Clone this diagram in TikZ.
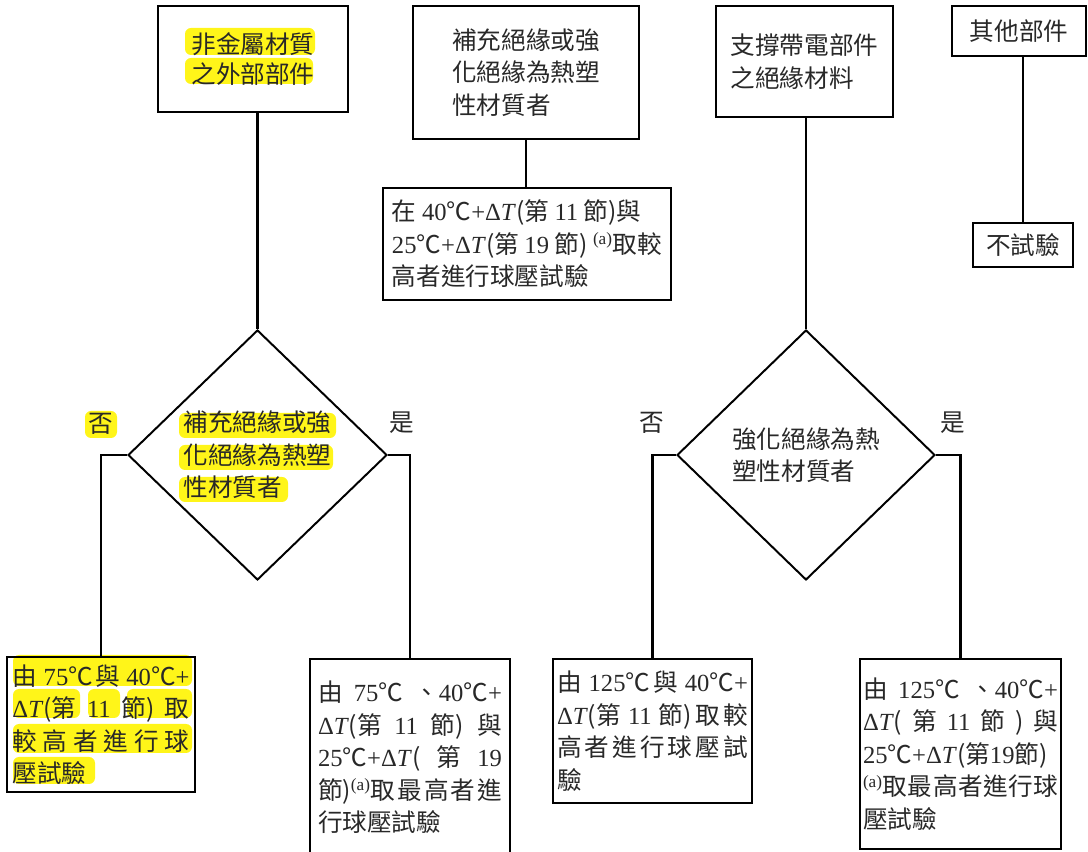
\documentclass[tikz,border=0pt]{standalone}
\usepackage{fontspec}
\usetikzlibrary{shapes.geometric}
\setmainfont{Noto Sans CJK TC}
\newfontfamily\lat{Liberation Serif}
\newlength\px
\setlength\px{0.025cm}
\definecolor{hlyellow}{RGB}{255,245,25}
\definecolor{ink}{RGB}{40,40,40}
\newcommand\nm[1]{{\lat #1}}
\newcommand\dT{{\lat Δ\textit{T}}}
\newcommand\sa{\textsuperscript{\lat (a)}}
\newcommand\jcjk{\XeTeXlinebreaklocale "zh"\XeTeXlinebreakskip=0pt plus 4pt\tolerance=10000\relax}
\begin{document}
\begin{tikzpicture}[x=\px,y=-\px]
\tikzstyle{every node}=[font=\fontsize{17.5pt}{23.1pt}\selectfont,text=ink]
\tikzstyle{box}=[draw,line width=2.1pt,inner sep=0pt,align=left]
\tikzstyle{jbox}=[box,align=justify,font=\fontsize{17.5pt}{23.1pt}\selectfont\jcjk]
\tikzstyle{decision}=[diamond,draw,line width=1.4pt,inner sep=0pt,align=left]
\tikzstyle{link}=[line width=2pt]
\tikzstyle{hl}=[fill=hlyellow,rounded corners=6\px]
\useasboundingbox (0,0) rectangle (1088,852);
% highlights
\fill[hl] (185,28) rectangle (315,55);
\fill[hl] (185,58) rectangle (313,84);
\fill[hl] (179,413) rectangle (336,438);
\fill[hl] (179,445) rectangle (333,470);
\fill[hl] (179,477) rectangle (288,502);
\fill[hl] (85,411) rectangle (117,438);
\fill[hl] (13,655) rectangle (192,686);
\fill[hl] (13,689) rectangle (80,718);
\fill[hl] (88,689) rectangle (120,718);
\fill[hl] (127,689) rectangle (192,718);
\fill[hl] (13,724) rectangle (192,753);
\fill[hl] (13,757) rectangle (95,784);
% top row
\node[box,align=center,minimum width=190\px,minimum height=106\px,font=\fontsize{17.5pt}{21.3pt}\selectfont](a) at (253,59) {非金屬材質\\之外部部件};
\node[box,minimum width=226\px,minimum height=133\px](b) at (526,72.5) {補充絕緣或強\\化絕緣為熱塑\\性材質者};
\node[box,minimum width=288\px,minimum height=112\px](c) at (527,244) {在 \nm{40}℃\nm{+}\dT(第 \nm{11} 節)與\\\nm{25}℃\nm{+}\dT(第 \nm{19} 節) \sa 取較\\高者進行球壓試驗};
\node[box,minimum width=177\px,minimum height=111\px](d) at (804.5,61.5) {支撐帶電部件\\之絕緣材料};
\node[box,minimum width=134\px,minimum height=50\px](e) at (1019,31) {其他部件};
\node[box,minimum width=100\px,minimum height=44\px](f) at (1023,245) {不試驗};
% decisions
\node[decision,minimum width=259\px,minimum height=250\px](d1) at (257.5,455) {補充絕緣或強\\化絕緣為熱塑\\性材質者};
\node[decision,minimum width=258\px,minimum height=250\px](d2) at (806,455) {強化絕緣為熱\\塑性材質者};
\node(n1) at (101,424) {否};
\node(y1) at (402,423) {是};
\node(n2) at (652,423) {否};
\node(y2) at (953,423) {是};
% bottom row
\node[jbox,text width=177\px,minimum width=188\px,minimum height=135\px](l1) at (101,724.5) {由 \nm{75}℃與 \nm{40}℃\nm{+}\linebreak \dT(第 \nm{11} 節)取\linebreak 較高者進行球\linebreak 壓試驗};
\node[jbox,text width=184\px,minimum width=200\px,minimum height=197\px](l2) at (410,757.5) {由 \nm{75}℃ 、\nm{40}℃\nm{+}\linebreak \dT(第 \nm{11} 節)與\linebreak \nm{25}℃\nm{+}\dT( 第 \nm{19}\linebreak 節)\sa 取最高者進\linebreak 行球壓試驗};
\node[jbox,text width=191\px,minimum width=199\px,minimum height=144\px](r1) at (652.5,731) {由 \nm{125}℃與 \nm{40}℃\nm{+}\linebreak \dT(第 \nm{11} 節)取較\linebreak 高者進行球壓試\linebreak 驗};
\node[jbox,text width=195\px,minimum width=201\px,minimum height=190\px](r2) at (960.5,754) {由 \nm{125}℃ 、\nm{40}℃\nm{+}\linebreak \dT( 第 \nm{11} 節 ) 與\linebreak \nm{25}℃\nm{+}\dT(第\nm{19}節)\linebreak \sa 取最高者進行球\linebreak 壓試驗};
% links
\draw[link] (a.south -| d1.north) -- (d1.north);
\draw[link] (d1.west) -| (l1.north);
\draw[link] (d1.east) -| (l2.north);
\draw[link] (b.south) -- (b.south |- c.north);
\draw[link] (d.south -| d2.north) -- (d2.north);
\draw[link] (d2.west) -| (r1.north);
\draw[link] (d2.east) -| (r2.north);
\draw[link] (f.north |- e.south) -- (f.north);
\end{tikzpicture}
\end{document}
